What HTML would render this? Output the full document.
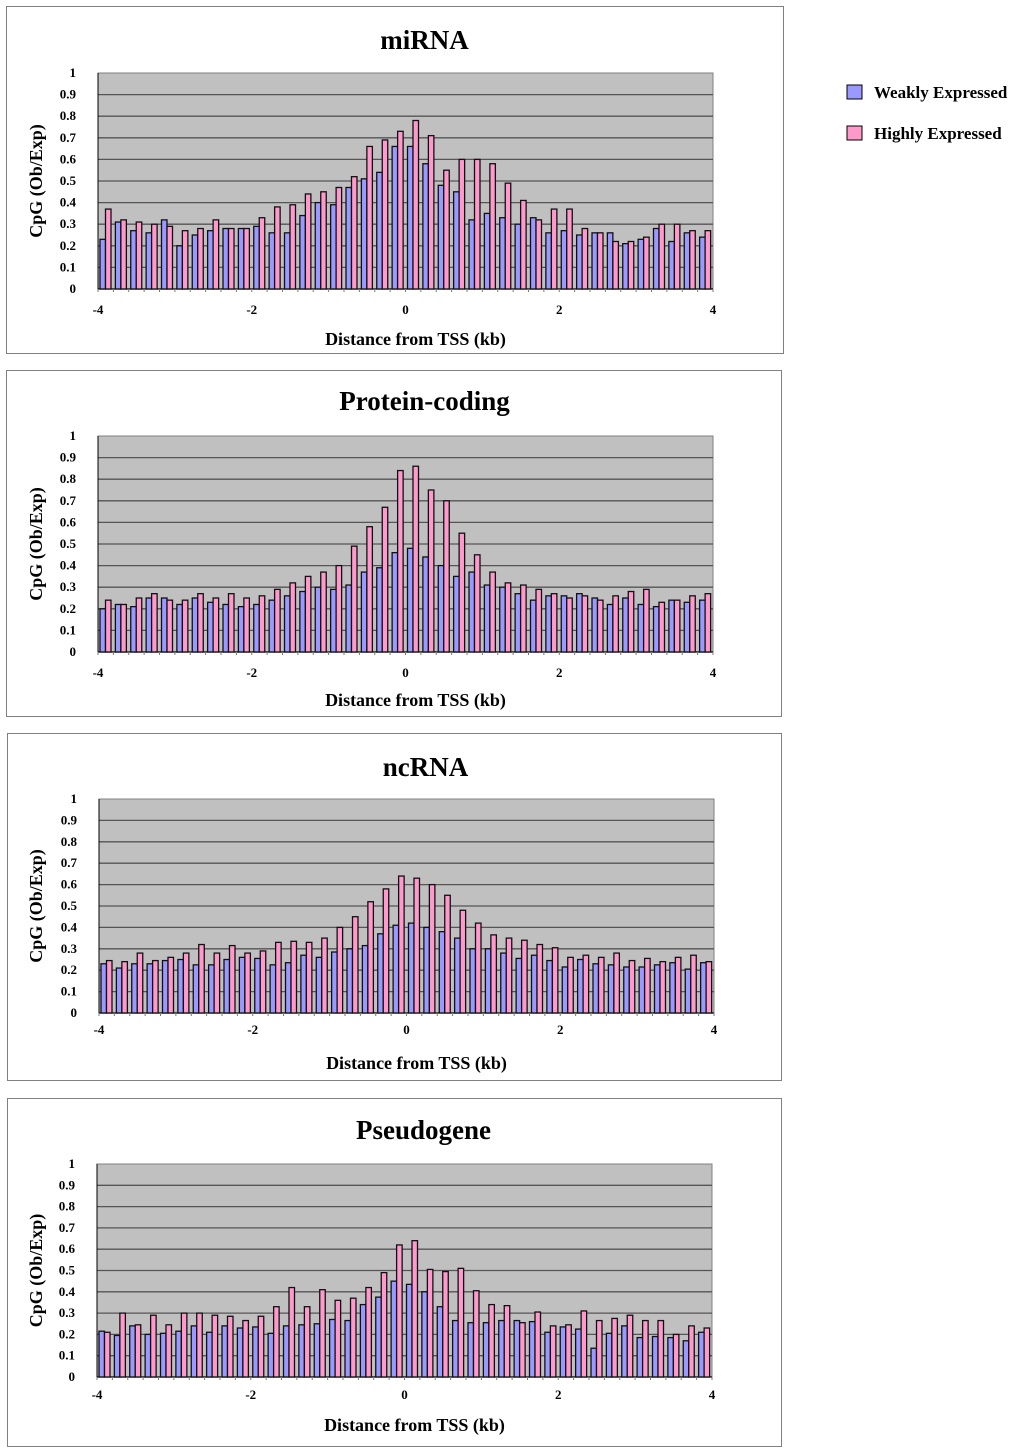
<!DOCTYPE html>
<html><head><meta charset="utf-8">
<style>
body{margin:0;background:#fff;width:1024px;height:1452px;overflow:hidden;font-family:"Liberation Serif",serif;}
svg{position:absolute;left:0;top:0}
</style></head>
<body>
<svg id="root" width="1024" height="1452" viewBox="0 0 1024 1452">
  <g>
    <rect x="847" y="85" width="15" height="14" fill="#9999ff" stroke="#000" stroke-width="1"/>
    <text x="874" y="98" font-size="17" font-weight="bold" font-family="Liberation Serif">Weakly Expressed</text>
    <rect x="847" y="126" width="15" height="14" fill="#ff99cc" stroke="#000" stroke-width="1"/>
    <text x="874" y="139" font-size="17" font-weight="bold" font-family="Liberation Serif">Highly Expressed</text>
  </g>
</svg>
<script>
const titles = ["miRNA","Protein-coding","ncRNA","Pseudogene"];
const yTicks = [0,0.1,0.2,0.3,0.4,0.5,0.6,0.7,0.8,0.9,1];
const yTickLabels = ["0","0.1","0.2","0.3","0.4","0.5","0.6","0.7","0.8","0.9","1"];
const xTicks = [-4,-2,0,2,4];
const mirnaWeak = [0.23,0.31,0.27,0.26,0.32,0.20,0.25,0.27,0.28,0.28,0.29,0.26,0.26,0.34,0.40,0.39,0.47,0.51,0.54,0.66,0.66,0.58,0.48,0.45,0.32,0.35,0.33,0.30,0.33,0.26,0.27,0.25,0.26,0.26,0.21,0.23,0.28,0.22,0.26,0.24];
const mirnaHigh = [0.37,0.32,0.31,0.30,0.29,0.27,0.28,0.32,0.28,0.28,0.33,0.38,0.39,0.44,0.45,0.47,0.52,0.66,0.69,0.73,0.78,0.71,0.55,0.60,0.60,0.58,0.49,0.41,0.32,0.37,0.37,0.28,0.26,0.22,0.22,0.24,0.30,0.30,0.27,0.27];
const protWeak = [0.20,0.22,0.21,0.25,0.25,0.22,0.25,0.23,0.22,0.21,0.22,0.24,0.26,0.28,0.30,0.29,0.31,0.37,0.39,0.46,0.48,0.44,0.40,0.35,0.37,0.31,0.30,0.27,0.24,0.26,0.26,0.27,0.25,0.22,0.25,0.22,0.21,0.24,0.23,0.24];
const protHigh = [0.24,0.22,0.25,0.27,0.24,0.24,0.27,0.25,0.27,0.25,0.26,0.29,0.32,0.35,0.37,0.40,0.49,0.58,0.67,0.84,0.86,0.75,0.70,0.55,0.45,0.37,0.32,0.31,0.29,0.27,0.25,0.26,0.24,0.26,0.28,0.29,0.23,0.24,0.26,0.27];
const ncWeak = [0.23,0.21,0.23,0.23,0.245,0.25,0.225,0.225,0.25,0.26,0.255,0.225,0.235,0.27,0.26,0.285,0.30,0.315,0.37,0.41,0.42,0.40,0.38,0.35,0.30,0.30,0.28,0.255,0.27,0.245,0.215,0.25,0.23,0.225,0.215,0.215,0.225,0.235,0.205,0.235];
const ncHigh = [0.245,0.24,0.28,0.245,0.26,0.28,0.32,0.28,0.315,0.28,0.29,0.33,0.335,0.33,0.35,0.40,0.45,0.52,0.58,0.64,0.63,0.60,0.55,0.48,0.42,0.365,0.35,0.34,0.32,0.305,0.26,0.27,0.26,0.28,0.245,0.255,0.24,0.26,0.27,0.24];
const pseWeak = [0.215,0.195,0.24,0.20,0.205,0.215,0.24,0.21,0.24,0.23,0.235,0.205,0.24,0.245,0.25,0.27,0.265,0.34,0.375,0.45,0.435,0.40,0.33,0.265,0.255,0.255,0.265,0.265,0.26,0.21,0.235,0.225,0.135,0.205,0.24,0.185,0.19,0.185,0.17,0.21];
const pseHigh = [0.21,0.30,0.245,0.29,0.245,0.30,0.30,0.29,0.285,0.265,0.285,0.33,0.42,0.33,0.41,0.36,0.37,0.42,0.49,0.62,0.64,0.505,0.495,0.51,0.405,0.34,0.335,0.255,0.305,0.24,0.245,0.31,0.265,0.275,0.29,0.265,0.265,0.20,0.24,0.23];
const weakSeries = [mirnaWeak,protWeak,ncWeak,pseWeak];
const highSeries = [mirnaHigh,protHigh,ncHigh,pseHigh];

const NS="http://www.w3.org/2000/svg";
const root=document.getElementById('root');
function mk(tag,attrs,parent){const e=document.createElementNS(NS,tag);for(const k in attrs)e.setAttribute(k,attrs[k]);parent.appendChild(e);return e;}
const panels=[
 {px:6,py:6,pw:777,ph:347,l:98,t:73,r:713,b:289,ty:49,xl:310,xt:345},
 {px:6,py:370,pw:775,ph:346,l:98,t:436,r:713,b:652,ty:410,xl:673,xt:706},
 {px:7,py:733,pw:774,ph:347,l:99,t:799,r:714,b:1013,ty:776,xl:1030,xt:1069},
 {px:7,py:1098,pw:774,ph:348,l:97,t:1164,r:712,b:1377,ty:1139,xl:1395,xt:1431}
];
panels.forEach((p,ci)=>{
 const g=mk('g',{},root);
 
 
 const fr=mk('rect',{x:p.px+0.5,y:p.py+0.5,width:p.pw,height:p.ph,fill:'#fff',stroke:'#808080','stroke-width':1},g);
 
 
 const tt=mk('text',{x:(p.l+p.r)/2+19,y:p.ty,'text-anchor':'middle','font-size':27,'font-weight':'bold','font-family':'Liberation Serif'},g);
 tt.textContent=titles[ci];
 
 
 const ys=v=>p.b-(p.b-p.t)*v;
 const xs=v=>p.l+(p.r-p.l)*(v+4)/8;
 const pa=mk('rect',{x:p.l,y:p.t,width:p.r-p.l,height:p.b-p.t,fill:'#c0c0c0',stroke:'#808080','stroke-width':1},g);
 
 
 yTicks.forEach((v,i)=>{
  if(v>0&&v<1){const gl=mk('line',{x1:p.l,x2:p.r,y1:ys(v),y2:ys(v),stroke:'#555','stroke-width':1.3},g);
   
   }
  const tl=mk('text',{x:p.l-22,y:ys(v)+4,'text-anchor':'end','font-size':13,'font-weight':'bold','font-family':'Liberation Serif'},g);
  tl.textContent=yTickLabels[i];
  
  
 });
 mk('line',{x1:p.l,x2:p.l,y1:p.t,y2:p.b,stroke:'#000','stroke-width':1},g);
 mk('line',{x1:p.l,x2:p.r,y1:p.b,y2:p.b,stroke:'#000','stroke-width':1.2},g);
 const n=weakSeries[ci].length, gw=(p.r-p.l)/n;
 for(let i=0;i<=n;i++){mk('line',{x1:p.l+i*gw,x2:p.l+i*gw,y1:p.b,y2:p.b+3,stroke:'#777','stroke-width':1},g);}
 weakSeries[ci].forEach((v,i)=>{
  const x=p.l+i*gw+2;
  const b=mk('rect',{x:x,y:ys(v),width:5.5,height:p.b-ys(v),fill:'#9999ff',stroke:'#111','stroke-width':1.3},g);
  
  
  const h=highSeries[ci][i];
  const b2=mk('rect',{x:x+5.5,y:ys(h),width:5.5,height:p.b-ys(h),fill:'#ff99cc',stroke:'#111','stroke-width':1.3},g);
  
  
 });
 xTicks.forEach(v=>{
  const t=mk('text',{x:xs(v),y:p.xl+4,'text-anchor':'middle','font-size':13,'font-weight':'bold','font-family':'Liberation Serif'},g);
  t.textContent=String(v);
  
  
 });
 const xt=mk('text',{x:(p.l+p.r)/2+10,y:p.xt,'text-anchor':'middle','font-size':18,'font-weight':'bold','font-family':'Liberation Serif'},g);
 xt.textContent='Distance from TSS (kb)';
 
 
 const cy=(p.t+p.b)/2;
 const yt=mk('text',{x:42,y:cy,'text-anchor':'middle','font-size':18,'font-weight':'bold','font-family':'Liberation Serif',transform:'rotate(-90 42 '+cy+')'},g);
 yt.textContent='CpG (Ob/Exp)';
 
 
});
</script>
</body></html>
